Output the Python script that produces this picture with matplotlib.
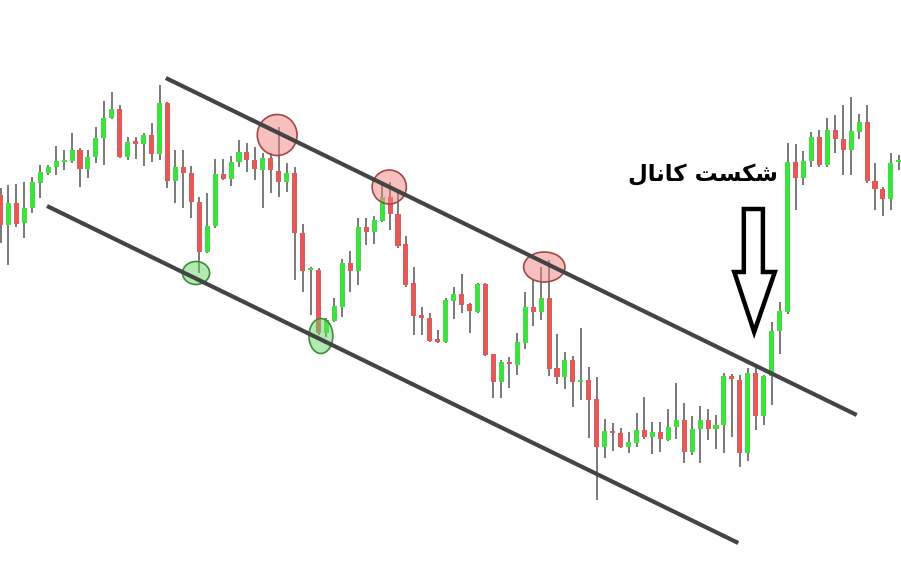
import matplotlib
matplotlib.use("Agg")
import matplotlib.pyplot as plt
from matplotlib.patches import Ellipse, Polygon
import numpy as np

# ---- candle data (arbitrary price units) ----
opens = [405, 375, 397, 377, 392, 417, 427, 433, 438, 439, 450, 431, 443, 462, 482, 491, 443, 459, 456, 465,
         446, 497, 419, 433, 427, 398, 348, 374, 426, 421, 438, 448, 440, 430, 442, 429, 418, 427, 367, 330,
         330, 267, 279, 293, 337, 329, 373, 368, 379, 403, 386, 356, 317, 285, 282, 261, 258, 299, 306, 296,
         288, 316, 246, 218, 238, 235, 257, 293, 288, 302, 232, 223, 240, 218, 220, 201, 153, 169, 167, 153,
         157, 170, 163, 168, 160, 173, 180, 148, 171, 180, 171, 175, 224, 220, 147, 227, 184, 224, 269, 288,
         438, 422, 439, 463, 435, 470, 461, 450, 468, 478, 419, 411, 401, 438]
highs = [412, 415, 416, 418, 423, 435, 435, 454, 450, 467, 452, 450, 473, 499, 508, 495, 463, 463, 467, 477,
         515, 498, 450, 450, 434, 403, 407, 441, 441, 444, 460, 457, 453, 447, 447, 473, 437, 433, 376, 333,
         332, 282, 302, 341, 349, 382, 382, 384, 417, 418, 408, 364, 333, 293, 287, 270, 302, 313, 326, 297,
         317, 317, 246, 240, 243, 267, 308, 320, 333, 340, 266, 248, 244, 272, 233, 223, 181, 177, 172, 168,
         187, 203, 178, 178, 191, 217, 197, 184, 194, 191, 185, 227, 226, 225, 232, 232, 225, 278, 298, 457,
         456, 449, 468, 470, 482, 485, 495, 503, 486, 495, 437, 413, 447, 445]
lows = [357, 335, 373, 362, 387, 402, 425, 425, 430, 437, 413, 422, 437, 435, 481, 442, 440, 441, 434, 438,
        440, 412, 397, 392, 382, 327, 347, 372, 420, 414, 433, 428, 420, 392, 407, 403, 408, 320, 308, 285,
        265, 263, 278, 283, 308, 315, 355, 356, 378, 370, 352, 313, 265, 265, 258, 257, 257, 281, 287, 267,
        287, 244, 202, 202, 212, 225, 251, 274, 280, 224, 216, 211, 193, 200, 162, 100, 142, 149, 152, 147,
        153, 161, 146, 148, 159, 161, 137, 145, 137, 160, 151, 147, 163, 133, 139, 170, 175, 195, 246, 286,
        390, 415, 433, 433, 433, 447, 425, 425, 461, 417, 390, 384, 390, 430]
closes = [375, 397, 376, 392, 418, 428, 433, 439, 440, 450, 431, 443, 462, 482, 491, 443, 458, 456, 465, 446,
          497, 419, 433, 427, 398, 348, 374, 426, 421, 438, 448, 440, 431, 442, 430, 418, 427, 367, 329, 332,
          267, 280, 294, 337, 329, 373, 368, 380, 403, 386, 354, 315, 284, 282, 259, 258, 300, 306, 295, 289,
          316, 245, 218, 238, 236, 258, 293, 288, 302, 231, 223, 240, 218, 220, 200, 153, 169, 167, 153, 158,
          170, 163, 168, 161, 173, 180, 148, 171, 180, 171, 175, 224, 221, 147, 227, 184, 224, 269, 289, 438,
          422, 439, 463, 435, 470, 461, 450, 469, 478, 419, 411, 401, 437, 440]

# channel lines (x in candle index, y in price)
upper_channel_x = [20.8, 107.7]
upper_channel_y = [522, 185]
lower_channel_x = [5.85, 92.8]
lower_channel_y = [394, 57]

# touch markers: (x index, price, width idx, height price)
red_marks = [(34.8, 465, 5.0, 41), (48.9, 413, 4.3, 34), (68.4, 333, 5.2, 30)]
green_marks = [(24.6, 327, 3.4, 23), (40.3, 264, 3.0, 35)]

# arrow outline (x index, price)
arrow_x = [93.5, 95.9, 95.9, 97.4, 94.8, 92.3, 93.5]
arrow_y = [391, 391, 328, 328, 268, 328, 328]

label_text = "\uFEDD\uFE8E\uFEE7\uFE8E\uFB90 \uFE96\uFEB4\uFB91\uFEB7"  # شکست کانال (shaped, visual order)
label_pos = (88.3, 425)

RED = "#e45858"
GREEN = "#3ee23e"
WICK = "#555555"

fig = plt.figure(figsize=(9.01, 5.66), dpi=100)
ax = fig.add_axes([0, 0, 1, 1])
ax.set_xlim(-0.063, 113.27)
ax.set_ylim(34, 600)
ax.axis("off")

o = np.array(opens); h = np.array(highs); l = np.array(lows); c = np.array(closes)
x = np.arange(len(o))
up = c >= o
ax.vlines(x, l, h, color=WICK, linewidth=1.1, zorder=2)
body_w = 0.63
bottoms = np.minimum(o, c)
heights = np.maximum(np.abs(c - o), 1.5)
ax.bar(x[up], heights[up], bottom=bottoms[up], width=body_w, color=GREEN, linewidth=0, zorder=3)
ax.bar(x[~up], heights[~up], bottom=bottoms[~up], width=body_w, color=RED, linewidth=0, zorder=3)

for (cx, cy, w, hh) in red_marks:
    ax.add_patch(Ellipse((cx, cy), w, hh, facecolor=(0.95, 0.5, 0.5, 0.5),
                         edgecolor="#a04848", linewidth=1.2, zorder=4))
for (cx, cy, w, hh) in green_marks:
    ax.add_patch(Ellipse((cx, cy), w, hh, facecolor=(0.4, 0.85, 0.4, 0.5),
                         edgecolor="#3c8c3c", linewidth=1.2, zorder=4))

ax.plot(upper_channel_x, upper_channel_y, color="#444444", linewidth=3.0,
        solid_capstyle="butt", zorder=5)
ax.plot(lower_channel_x, lower_channel_y, color="#444444", linewidth=3.0,
        solid_capstyle="butt", zorder=5)

ax.add_patch(Polygon(list(zip(arrow_x, arrow_y)), closed=True, facecolor="none",
                     edgecolor="black", linewidth=3.2, joinstyle="miter", zorder=6))

ax.text(label_pos[0], label_pos[1], label_text, fontsize=16.5, fontweight="bold",
        family=["DejaVu Sans"], ha="center", va="center", color="black", zorder=7)

fig.savefig("out.png", dpi=100, facecolor="white")
